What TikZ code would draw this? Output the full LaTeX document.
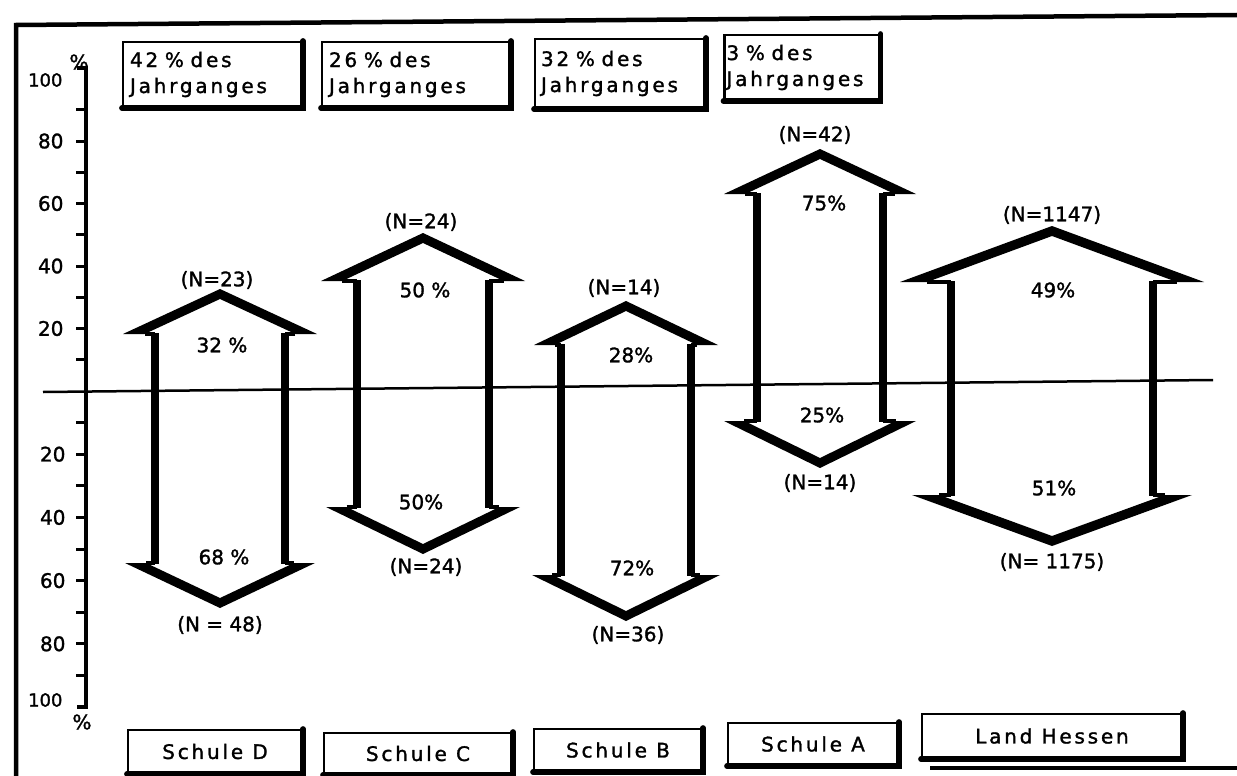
\documentclass[tikz,border=0pt]{standalone}
\usepackage{fontspec}
\newfontfamily\labfont[LetterSpace=14,FakeBold=1.4]{DejaVu Sans}
\newfontfamily\numfont[FakeBold=1.4]{DejaVu Sans}
\newcommand\blockarrow[8]{%
 \pgfmathsetmacro\bxl{#1-#2}%
 \pgfmathsetmacro\bxr{#1+#2}%
 \pgfmathsetmacro\btl{#1-#3}%
 \pgfmathsetmacro\btr{#1+#3}%
 \pgfmathsetmacro\bbl{#1-#4}%
 \pgfmathsetmacro\bbr{#1+#4}%
 \pgfmathsetmacro\bdt{10*#3/(#6-#5+4)}%
 \pgfmathsetmacro\bdb{10*#4/(#8-#7+4)}%
 \fill (\btl,#6) -- (#1,#5-4) -- (\btr,#6) -- (\btr-\bdt,#6) -- (#1,#5+6) -- (\btl+\bdt,#6) -- cycle;
 \fill (\bbl,#7) -- (#1,#8+4) -- (\bbr,#7) -- (\bbr-\bdb,#7) -- (#1,#8-6) -- (\bbl+\bdb,#7) -- cycle;
 \draw[barb] (\btl+\bdt,#6) -- (\bxl,#6) (\btr-\bdt,#6) -- (\bxr,#6);
 \draw[barb] (\bbl+\bdb,#7) -- (\bxl,#7) (\bbr-\bdb,#7) -- (\bxr,#7);
 \draw[shaft] (\bxl,#6-1) -- (\bxl,#7+1) (\bxr,#6-1) -- (\bxr,#7+1);
}
\begin{document}
\begin{tikzpicture}[x=1pt,y=-1pt,
  frameline/.style={line width=4.5pt},
  axisline/.style={line width=3.5pt},
  tickline/.style={line width=3pt},
  zeroline/.style={line width=2.5pt},
  barb/.style={line width=3.5pt},
  shaft/.style={line width=8pt},
  box/.style={draw, line width=2.2pt, rectangle, inner sep=0pt},
  shadowline/.style={line width=5.5pt, line cap=round},
  lab/.style={font=\labfont\fontsize{20}{26}\selectfont},
  num/.style={font=\numfont\fontsize{20}{22}\selectfont},
  axnum/.style={font=\numfont\fontsize{20}{22}\selectfont, anchor=east},
]
\useasboundingbox (0,0) rectangle (1237,776);
\fill[white] (0,0) rectangle (1237,776);

% frame
\draw[frameline] (16,776) -- (16,25) -- (1237,15);
\draw[frameline] (930,768) -- (1237,768);

% axis
\draw[axisline] (77,68) -- (86,68) -- (86,707) -- (77,707);
\foreach \v in {10,20,...,90} {
  \draw[tickline] (76,391-\v*3.125) -- (86,391-\v*3.125);
  \draw[tickline] (76,391+\v*3.16) -- (86,391+\v*3.16);
}
\foreach \v in {20,40,60,80} {
  \node[axnum] (au\v) at (67,391-\v*3.125) {\v};
  \node[axnum] (ad\v) at (69,391+\v*3.16) {\v};
}
\node[axnum, font=\numfont\fontsize{18}{20}\selectfont] (au100) at (66,80) {100};
\node[num] (aupct) at (79,62) {\%};
\node[axnum, font=\numfont\fontsize{18}{20}\selectfont] (ad100) at (66,700) {100};
\node[num] (adpct) at (82,722) {\%};

% zero line
\draw[zeroline] (43,392) -- (1213,380);

% arrows
\blockarrow{220}{65}{97}{95}{293}{334}{563}{604}
\blockarrow{423}{66}{102}{97}{237}{281}{507}{550}
\blockarrow{626}{65}{92}{94}{305}{345}{575}{617}
\blockarrow{820}{63}{96}{96}{153}{194}{421}{464}
\blockarrow{1052}{101}{152}{140}{230}{282}{495}{542}

% arrow labels
\node[num] (dN1) at (217,280) {(N=23)};
\node[num] (dP1) at (222,345) {32 \%};
\node[num] (dP2) at (224,557) {68 \%};
\node[num] (dN2) at (220,625) {(N = 48)};

\node[num] (cN1) at (421,222) {(N=24)};
\node[num] (cP1) at (425,290) {50 \%};
\node[num] (cP2) at (421,502) {50\%};
\node[num] (cN2) at (426,567) {(N=24)};

\node[num] (bN1) at (624,288) {(N=14)};
\node[num] (bP1) at (631,355) {28\%};
\node[num] (bP2) at (632,568) {72\%};
\node[num] (bN2) at (628,635) {(N=36)};

\node[num] (aN1) at (815,135) {(N=42)};
\node[num] (aP1) at (824,203) {75\%};
\node[num] (aP2) at (822,415) {25\%};
\node[num] (aN2) at (820,483) {(N=14)};

\node[num] (hN1) at (1052,215) {(N=1147)};
\node[num] (hP1) at (1053,290) {49\%};
\node[num] (hP2) at (1054,488) {51\%};
\node[num] (hN2) at (1052,562) {(N= 1175)};

% top boxes
\node[box, lab, minimum width=179pt, minimum height=65pt, text width=165pt, inner xsep=7pt, align=left] (t1) at (212.5,74.5) {42 \% des\\Jahrganges};
\node[box, lab, minimum width=188pt, minimum height=65pt, text width=174pt, inner xsep=7pt, align=left] (t2) at (416,74.5) {26 \% des\\Jahrganges};
\node[box, lab, minimum width=170pt, minimum height=69pt, text width=158pt, inner xsep=6pt, align=left] (t3) at (620,73.5) {32 \% des\\Jahrganges};
\node[box, lab, minimum width=155pt, minimum height=65pt, text width=151pt, inner xsep=2pt, align=left] (t4) at (802,67.5) {3 \% des\\Jahrganges};
\foreach \b in {t1,t2,t3,t4} {
  \draw[shadowline] (\b.north east) -- (\b.south east) -- (\b.south west);
}

% bottom boxes
\node[box, lab, minimum width=174pt, minimum height=43pt] (sD) at (215,751.5) {Schule D};
\node[box, lab, minimum width=188pt, minimum height=41pt] (sC) at (418,753.5) {Schule C};
\node[box, lab, minimum width=168pt, minimum height=42pt] (sB) at (618,750) {Schule B};
\node[box, lab, minimum width=170pt, minimum height=42pt] (sA) at (813,744) {Schule A};
\node[box, lab, minimum width=260pt, minimum height=44pt] (sH) at (1052,736) {Land Hessen};
\foreach \b in {sD,sC,sB,sA,sH} {
  \draw[shadowline] (\b.north east) -- (\b.south east) -- (\b.south west);
}
\end{tikzpicture}
\end{document}
